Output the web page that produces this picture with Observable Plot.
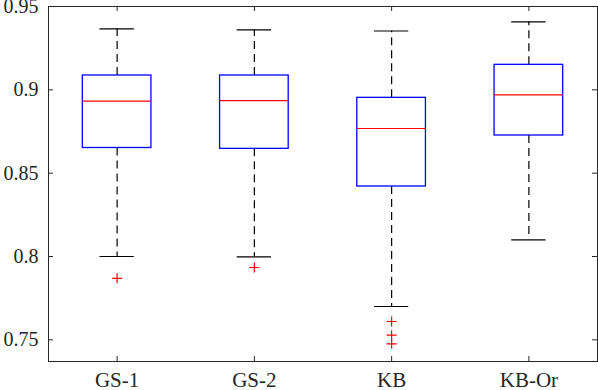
<!DOCTYPE html>
<html>
<head>
<meta charset="utf-8">
<script src="https://cdn.jsdelivr.net/npm/d3@7"></script>
<script src="https://cdn.jsdelivr.net/npm/@observablehq/plot@0.6"></script>
<style>
  html, body { margin: 0; padding: 0; background: #fff; }
  svg, svg text { font-family: "Liberation Serif", "Times New Roman", Times, serif !important; }
</style>
</head>
<body>
<div id="chart"></div>
<script>
const categories = ["GS-1", "GS-2", "KB", "KB-Or"];
const lowerWhisker = [0.8000, 0.7998, 0.7700, 0.8100];
const q1 = [0.8651, 0.8646, 0.8420, 0.8726];
const median = [0.8932, 0.8935, 0.8768, 0.8970];
const q3 = [0.9086, 0.9086, 0.8952, 0.9150];
const upperWhisker = [0.9366, 0.9360, 0.9353, 0.9408];
const outlierCategory = ["GS-1", "GS-2", "KB", "KB", "KB"];
const outlierValue = [0.7869, 0.7934, 0.7610, 0.7528, 0.7476];
const yTicks = [0.75, 0.8, 0.85, 0.9, 0.95];

const boxes = categories.map((c, i) => ({
  pos: i + 1, lo: lowerWhisker[i], q1: q1[i], med: median[i], q3: q3[i], hi: upperWhisker[i]
}));
const outliers = outlierValue.map((v, i) => ({pos: categories.indexOf(outlierCategory[i]) + 1, v}));
const xTicks = categories.map((c, i) => i + 1);

const halfBox = 0.25, halfCap = 0.125;
const axisColor = "#262626";
const W = 598, H = 390, mL = 48, mR = 1, mT = 6, mB = 29;
const plotW = W - mL - mR, plotH = H - mT - mB, tickLen = 5;

const plusSymbol = {
  draw(ctx, size) {
    const r = Math.sqrt(size / Math.PI);
    ctx.moveTo(-r, 0); ctx.lineTo(r, 0);
    ctx.moveTo(0, -r); ctx.lineTo(0, r);
  }
};

const chart = Plot.plot({
  width: W, height: H,
  marginLeft: mL, marginRight: mR, marginTop: mT, marginBottom: mB,
  style: {background: "#fff", color: axisColor},
  x: {type: "linear", domain: [0.5, 4.5]},
  y: {domain: [0.737, 0.95]},
  marks: [
    Plot.axisY({ticks: yTicks, tickSize: 0, tickPadding: 10, tickFormat: d => String(d), fontSize: 20, label: null, color: axisColor}),
    Plot.axisX({ticks: xTicks, tickSize: 0, tickPadding: 11, tickFormat: d => categories[d - 1], fontSize: 21, label: null, color: axisColor}),
    // inward ticks
    Plot.tickY(yTicks, {y: d => d, insetRight: plotW - tickLen, stroke: axisColor}),
    Plot.tickY(yTicks, {y: d => d, insetLeft: plotW - tickLen, stroke: axisColor}),
    Plot.tickX(xTicks, {x: d => d, insetTop: plotH - tickLen, stroke: axisColor}),
    Plot.tickX(xTicks, {x: d => d, insetBottom: plotH - tickLen, stroke: axisColor}),
    // whiskers
    Plot.ruleX(boxes, {x: "pos", y1: "q3", y2: "hi", stroke: "black", strokeWidth: 1.2, strokeDasharray: "8,5"}),
    Plot.ruleX(boxes, {x: "pos", y1: "q1", y2: "lo", stroke: "black", strokeWidth: 1.2, strokeDasharray: "8,5"}),
    Plot.ruleY(boxes, {y: "hi", x1: d => d.pos - halfCap, x2: d => d.pos + halfCap, stroke: "black", strokeWidth: 1.2}),
    Plot.ruleY(boxes, {y: "lo", x1: d => d.pos - halfCap, x2: d => d.pos + halfCap, stroke: "black", strokeWidth: 1.2}),
    // boxes
    Plot.rect(boxes, {x1: d => d.pos - halfBox, x2: d => d.pos + halfBox, y1: "q1", y2: "q3", fill: "white", stroke: "#0000ff", strokeWidth: 1.3}),
    Plot.ruleY(boxes, {y: "med", x1: d => d.pos - halfBox, x2: d => d.pos + halfBox, stroke: "#ff0000", strokeWidth: 1.2}),
    // outliers
    Plot.dot(outliers, {x: "pos", y: "v", symbol: plusSymbol, r: 5, stroke: "#ff0000", fill: "none", strokeWidth: 1.2}),
    Plot.frame({stroke: axisColor, strokeWidth: 1})
  ]
});
document.getElementById("chart").appendChild(chart);
</script>
</body>
</html>
